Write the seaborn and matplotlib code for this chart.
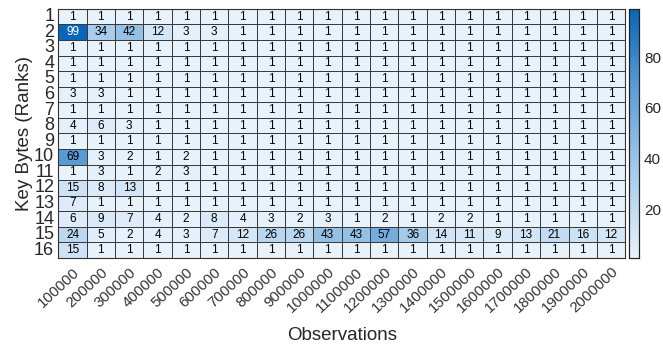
import numpy as np
import pandas as pd
import matplotlib
matplotlib.use("Agg")
import matplotlib.pyplot as plt
from matplotlib.colors import LinearSegmentedColormap
import seaborn as sns

# ── Data ─────────────────────────────────────────────────────────
observations = [str(100000 * i) for i in range(1, 21)]
key_bytes = [str(i) for i in range(1, 17)]

ones = [1] * 20
row_2 = [99, 34, 42, 12, 3, 3] + [1] * 14
row_6 = [3, 3] + [1] * 18
row_8 = [4, 6, 3] + [1] * 17
row_10 = [69, 3, 2, 1, 2] + [1] * 15
row_11 = [1, 3, 1, 2, 3] + [1] * 15
row_12 = [15, 8, 13] + [1] * 17
row_13 = [7] + [1] * 19
row_14 = [6, 9, 7, 4, 2, 8, 4, 3, 2, 3, 1, 2, 1, 2, 2, 1, 1, 1, 1, 1]
row_15 = [24, 5, 2, 4, 3, 7, 12, 26, 26, 43, 43, 57, 36, 14, 11, 9, 13, 21, 16, 12]
row_16 = [15] + [1] * 19

ranks = [ones, row_2, ones, ones, ones, row_6, ones, row_8, ones,
         row_10, row_11, row_12, row_13, row_14, row_15, row_16]
df = pd.DataFrame(ranks, index=key_bytes, columns=observations)

# ── Plot ─────────────────────────────────────────────────────────
sns.set_style("white")
plt.rcParams["font.family"] = ["Liberation Sans", "DejaVu Sans"]

cmap = LinearSegmentedColormap.from_list(
    "blues", ["#e8f2fb", "#a9cdec", "#5fa0d6", "#0766b8"], N=256)

fig = plt.figure(figsize=(6.63, 3.51), dpi=100)
ax = fig.add_axes([0.088, 0.265, 0.855, 0.71])
cax = fig.add_axes([0.948, 0.265, 0.016, 0.71])

sns.heatmap(df, ax=ax, cbar_ax=cax, cmap=cmap, vmin=1, vmax=99,
            annot=True, fmt="d", linewidths=0.5, linecolor="#3a3a3a",
            annot_kws={"size": 8.5})

# only the darkest cell gets white text
for t in ax.texts:
    t.set_color("white" if int(t.get_text()) >= 90 else "black")

ax.set_xlabel("Observations", fontsize=13.5, labelpad=8, color="#262626")
ax.set_ylabel("Key Bytes (Ranks)", fontsize=13.5, labelpad=1, color="#262626")
ax.set_xticklabels(observations, rotation=43, ha="right",
                   rotation_mode="anchor", fontsize=10.8, color="#333333")
ax.set_yticklabels(key_bytes, rotation=0, fontsize=13, color="#262626")
ax.tick_params(axis="x", length=0, pad=5)
ax.tick_params(axis="y", length=0, pad=3)
for s in ax.spines.values():
    s.set_visible(True)
    s.set_color("#333333")
    s.set_linewidth(0.8)

cax.set_yticks([20, 40, 60, 80])
cax.tick_params(labelsize=11, length=2, direction="in", labelcolor="#262626")
for s in cax.spines.values():
    s.set_visible(True)
    s.set_color("#222222")
    s.set_linewidth(0.8)

plt.savefig("out.png", dpi=100)
plt.close()
